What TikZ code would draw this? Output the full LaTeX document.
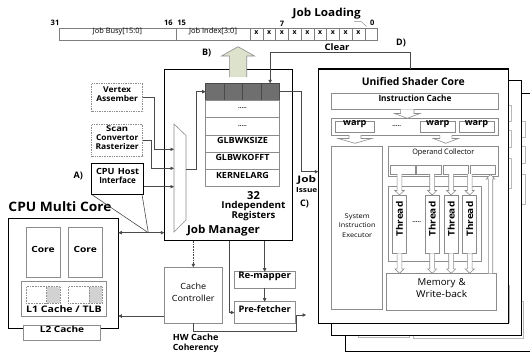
\documentclass[tikz,border=0pt]{standalone}
\usepackage{fontspec}
\setmainfont{Open Sans}
\usetikzlibrary{arrows.meta,calc,fit}
\definecolor{gr}{HTML}{8C8C8C}
\definecolor{dk}{HTML}{4A4A4A}
\definecolor{ghost}{HTML}{B8B8B8}
\definecolor{regfill}{HTML}{6F6F6F}
\definecolor{arrfill}{HTML}{DDE2CC}
\newcommand\fs[2]{\fontsize{#1}{#2}\selectfont}
\newcommand\W[2]{\resizebox{#1pt}{\height}{#2}}
\newcommand\harrow[7][]{\draw[#1] ({#2-#6},#3) -- ({#2-#6},#4) -- ({#2-#7},#4) -- ({#2},#5) -- ({#2+#7},#4) -- ({#2+#6},#4) -- ({#2+#6},#3);}
\newcommand\shaderrects{%
 \draw (331.7,93.3) rectangle (498.3,109.3);
 \draw (331.7,118.3) rectangle (498.3,135);
 \draw (331.7,146) rectangle (382.7,309.3);
 \draw (388.3,146) rectangle (498.3,176);
 \draw (470,165.3) rectangle (495,174);
 \draw (388.3,186.7) rectangle (481.7,261.7);
 \draw (386.7,273.3) rectangle (496.7,310);
 \draw (488.3,176) -- (488.3,273.3);
 \draw (492.7,176) -- (492.7,273.3);}
\tikzset{
  R/.style n args={4}{fit={(#1,#2)(#3,#4)},inner sep=0pt,outer sep=0pt},
  gbox/.style={draw=gr,line width=0.6pt,fill=white},
  bitbox/.style={draw=gr!90!black,line width=0.5pt,fill=white},
  bbox/.style={draw=black,line width=1pt,fill=white},
  dbox/.style={draw=gr,line width=0.7pt,densely dotted,fill=white},
  regc/.style={draw=dk,line width=0.6pt,fill=regfill},
  conn/.style={draw=dk,line width=0.6pt},
  arr/.style={conn,-{Triangle[length=3.5pt,width=3.4pt]}},
  harr/.style={draw=gr,line width=0.6pt,fill=white},
  bl/.style={font=\bfseries\fs{#1}{#1}},
  bl/.default=8,
  rl/.style={font=\fs{#1}{#1}},
  rl/.default=8,
}
\begin{document}
\begin{tikzpicture}[x=1pt,y=-1pt]
\useasboundingbox (0,0) rectangle (530,357);
\clip (0,0) rectangle (530,357);

% ---------------- bit register
\node[R={59}{28.7}{176}{40}, bitbox, rl=7.5] (busy) {\W{49}{Job Busy[15:0]}};
\node[R={176}{28.7}{250}{40}, bitbox, rl=7.5] (jidx) {\W{48}{Job Index[3:0]}};
\foreach \i in {0,...,9} {
  \node[R={250+12.75*\i}{28.7}{262.75+12.75*\i}{40}, bitbox, bl=7] (bit\i) {\ifnum\i<9 x\fi};
}
\node[bl=7.5] (n31) at (55,23.3) {31};
\node[bl=7.5] (n16) at (168.3,23.3) {16};
\node[bl=7.5] (n15) at (181.7,23.3) {15};
\node[bl=7.5] (n7) at (281.9,23.5) {7};
\node[bl=7.5] (n0) at (372.3,23.3) {0};
\node[bl=11] (jl) at (326.7,13.3) {\W{68}{Job Loading}};
\coordinate (ld) at (354,21.7);
\draw[gr,line width=0.5pt] (ld) -- ++(7.5,0) -- ++(5,4.8);
\node[bl=9] (clr) at (337,46.7) {\W{25}{Clear}};
\node[bl=9] (dl) at (401,42.5) {D)};

% ---------------- shader cores (stack)
\node[R={345}{93.3}{540}{351.7}, draw=black, line width=0.9pt, fill=white] (usc3) {};
\begin{scope}[shift={(26.5,28)},draw=ghost,line width=0.5pt]
 \shaderrects
\end{scope}
\node[R={331}{80.7}{521}{335.7}, draw=black, line width=0.9pt, fill=white] (usc2) {};
\begin{scope}[shift={(12.7,12)},draw=ghost,line width=0.5pt]
 \shaderrects
\end{scope}
\node[R={318.3}{69}{508.3}{323.3}, draw=black, line width=1.2pt, fill=white] (usc) {};
\node[bl=10.5] (usct) at (413.3,81.7) {\W{103}{Unified Shader Core}};
\node[R={331.7}{93.3}{498.3}{109.3}, gbox, bl=8.5] (ic) {\W{73}{Instruction Cache}};
\harrow[harr]{407.3}{109.3}{113.5}{118.3}{6.7}{12.7}
\node[R={331.7}{118.3}{498.3}{135}, gbox] (wrow) {};
\node[R={335.7}{121}{374}{132.7}, gbox, bl=9] (w1) {\W{23.3}{warp}};
\node[R={420.7}{121}{455}{132.7}, gbox, bl=9] (w2) {\W{23.3}{warp}};
\node[R={459}{121}{494}{132.7}, gbox, bl=9] (w3) {\W{23.3}{warp}};
\node[bl=6] (wd) at (396.7,126) {.....};
\harrow[harr]{355}{135}{138.5}{143.3}{6}{16.7}
\harrow[harr]{445.8}{135}{138.5}{143.3}{6}{12.5}
\node[R={331.7}{146}{382.7}{309.3}, gbox, align=center, font=\fs{6.5}{9.5}] (sie) {\W{25}{System}\\\W{36.7}{Instruction}\\\W{30}{Executor}};
\node[R={388.3}{146}{498.3}{176}, gbox] (oc) {};
\node[rl=7.5] (oct) at (443.3,153) {\W{62}{Operand Collector}};
\node[R={390}{165.3}{415}{174}, gbox] (o1) {};
\node[R={416.7}{165.3}{441.7}{174}, gbox] (o2) {};
\node[R={443.3}{165.3}{468.3}{174}, gbox] (o3) {};
\node[R={470}{165.3}{495}{174}, gbox] (o4) {};
\node[R={388.3}{186.7}{481.7}{261.7}, gbox] (ta) {};
\node[R={386.7}{273.3}{496.7}{310}, gbox, align=center, font=\fs{9.5}{12.5}] (mem) {\W{48}{Memory \&}\\\W{51}{Write-back}};
\foreach \n/\a/\b in {1/392.3/406.7, 2/425/439.3, 3/444/458.3, 4/462.7/476.7} {
  \pgfmathsetmacro\cx{(\a+\b)/2}
  \node[R={\a}{195}{\b}{253.3}, gbox] (t\n) {};
  \node[bl=9, rotate=90] (tt\n) at ($(t\n.center)+(0,-5)$) {\W{35}{Thread}};
  \harrow[harr]{\cx}{174}{190.5}{195}{2.4}{4.6}
  \harrow[harr]{\cx}{253.3}{268.8}{273.3}{2.4}{4.6}
}
\node[bl=6] (td) at (416.7,221.7) {.....};
\harrow[harr]{490.5}{273.3}{179}{174.3}{2.2}{4.2}

% ---------------- job manager
\node[R={164.3}{69}{292.7}{240.7}, bbox] (jm) {};
\fill[arrfill] (229.3,77) -- (229.3,56) -- (221.5,56) -- (238,46.7) -- (254.5,56) -- (246.7,56) -- (246.7,77) -- cycle;
\draw[gr,line width=0.6pt] (229.3,77) -- (229.3,56) -- (221.5,56) -- (238,46.7) -- (254.5,56) -- (246.7,56) -- (246.7,77);
\node[bl=9] (bl) at (206.7,53.3) {B)};
\foreach \i in {0,...,3} {
  \node[R={205.7+18.4*\i}{83.3}{224.1+18.4*\i}{100}, regc] (rg\i) {};
}
\node[R={205.7}{100}{279.3}{117.7}, gbox, bl=6] (rw1) {.....};
\node[R={205.7}{117.7}{279.3}{135.3}, gbox, bl=6] (rw2) {.....};
\node[R={205.7}{135.3}{279.3}{152.3}, gbox, bl=8.5] (rw3) {\W{51}{GLBWKSIZE}};
\node[R={205.7}{152.3}{279.3}{169.7}, gbox, bl=8.5] (rw4) {\W{54}{GLBWKOFFT}};
\node[R={205.7}{169.7}{279.3}{186.7}, gbox, bl=8.5] (rw5) {\W{53}{KERNELARG}};
\node[bl=11] (n32) at (253.5,196) {\W{12.7}{32}};
\node[bl=9.5] (ind) at (253.5,206.3) {\W{64}{Independent}};
\node[bl=9.5] (regs) at (253.5,216.3) {\W{44}{Registers}};
\node[bl=11] (jmt) at (223.5,230.5) {\W{73}{Job Manager}};
\draw[gr,line width=0.6pt,fill=white] (174,124) -- (186,135.5) -- (186,220) -- (174,232) -- cycle;
\coordinate (mx1) at (174,149.3);
\coordinate (mx2) at (174,168.3);
\coordinate (mx3) at (174,186.7);
\coordinate (mxo) at (186,169);

% ---------------- left inputs
\node[R={91.7}{83.3}{142.7}{111.7}, dbox, align=center, font=\bfseries\fs{8}{9}] (va) {\W{28}{Vertex}\\\W{41.7}{Assember}};
\node[R={91.7}{124.3}{142.7}{156}, dbox, align=center, font=\bfseries\fs{8}{9}] (sc) {\W{22}{Scan}\\\W{42.3}{Convertor}\\\W{43.3}{Rasterizer}};
\node[R={91.7}{163.3}{143.5}{194.5}, draw=black, line width=0.9pt, fill=white, align=center, font=\bfseries\fs{8.5}{9.5}] (chi) {\W{43}{CPU Host}\\\W{36.7}{Interface}};
\node[bl=9] (al) at (78.3,175.5) {A)};
\draw[arr] (va.east) -- ++(11.3,0) |- (mx1);
\draw[arr] (sc.east) -- ++(9,0) |- (mx2);
\draw[arr] (mx3 -| chi.east) -- (mx3);
\draw[arr] (mxo) -- ++(10,0) |- (rg0.west);

% ---------------- CPU
\node[bl=13] (cput) at (60,206.7) {\W{103}{CPU Multi Core}};
\node[R={8.3}{218.3}{118.3}{328.3}, draw=black, line width=0.9pt, fill=white] (cpu) {};
\node[R={26}{227.3}{60}{277.3}, gbox, bl=8.5] (core1) {\W{23.3}{Core}};
\node[R={68.3}{227.3}{102.3}{277.3}, gbox, bl=8.5] (core2) {\W{23.3}{Core}};
\node[R={21.7}{281}{106.7}{316}, gbox] (l1) {};
\fill[gray!35] (46.7,286.7) rectangle (60,303.3);
\node[R={26}{286.7}{60}{303.3}, draw=gr, densely dotted, line width=0.6pt] (tlb1) {};
\draw[gr, densely dotted, line width=0.6pt] (tlb1.north west) ++(20.7,0) -- ++(0,16.6);
\fill[gray!35] (89.3,286.7) rectangle (102.3,303.3);
\node[R={68.3}{286.7}{102.3}{303.3}, draw=gr, densely dotted, line width=0.6pt] (tlb2) {};
\draw[gr, densely dotted, line width=0.6pt] (tlb2.north west) ++(21,0) -- ++(0,16.6);
\node[bl=9] (l1t) at (64,309.5) {\W{75.7}{L1 Cache / TLB}};
\node[R={23.3}{325}{100.7}{340}, gbox, bl=8.5] (l2) {\W{44.3}{L2 Cache}};

\coordinate (jn) at (148.3,232.7);
\draw[conn] (chi.south west) -- (jn);
\draw[conn] ($(chi.south east)+(-1.5,0)$) -- (jn);
\draw[conn,{Triangle[length=3.5pt,width=3.4pt]}-{Triangle[length=3.5pt,width=3.4pt]}] (jn -| cpu.east) -- (jn -| jm.west);

% ---------------- cache controller etc.
\node[R={164.3}{267.3}{222.3}{323.3}, gbox, align=center, font=\fs{8.5}{12}] (cc) {\W{25.7}{Cache}\\\W{42.7}{Controller}};
\node[R={234.3}{271.7}{295}{288.3}, gbox, bl=9] (rm) {\W{52.7}{Re-mapper}};
\node[R={234.3}{301.7}{295}{323.3}, gbox, bl=9] (pf) {\W{52.3}{Pre-fetcher}};
\node[align=left, anchor=north west, font=\bfseries\fs{8.5}{10}, inner sep=0pt] (hw) at (172.7,333.5) {\W{45.7}{HW Cache}\\\W{45.7}{Coherency}};
\draw[arr, densely dotted] (jm.south -| cc.north) -- (cc.north);
\draw[arr] (jm.south -| rm.north) -- (rm.north);
\draw[arr] (rm.south) -- (pf.north);
\coordinate (jmb) at (229,240.7);
\draw[arr] (jmb) |- (pf.west);
\coordinate (ccl) at (164.3,316);
\draw[arr] (ccl) -- (ccl -| cpu.east);
\coordinate (hwe) at (306,315);
\draw[arr] (cc.south) -- ++(0,8.4) -| ($(hwe)+(-9.3,0)$) -- (hwe);

% ---------------- job issue / clear
\coordinate (iss) at (318.3,171.7);
\draw[arr] (rg3.east) -- ++(22.4,0) |- (iss);
\node[bl=9] (jobt) at (306.7,180.3) {\W{18.7}{Job}};
\node[bl=7] (isst) at (306.7,190) {\W{21.3}{Issue}};
\node[bl=9] (cl) at (304.5,204) {C)};
\coordinate (clrs) at (410.7,69);
\draw[arr] (clrs) -- ++(0,-16.5) -| (rg3.north);
\end{tikzpicture}
\end{document}
